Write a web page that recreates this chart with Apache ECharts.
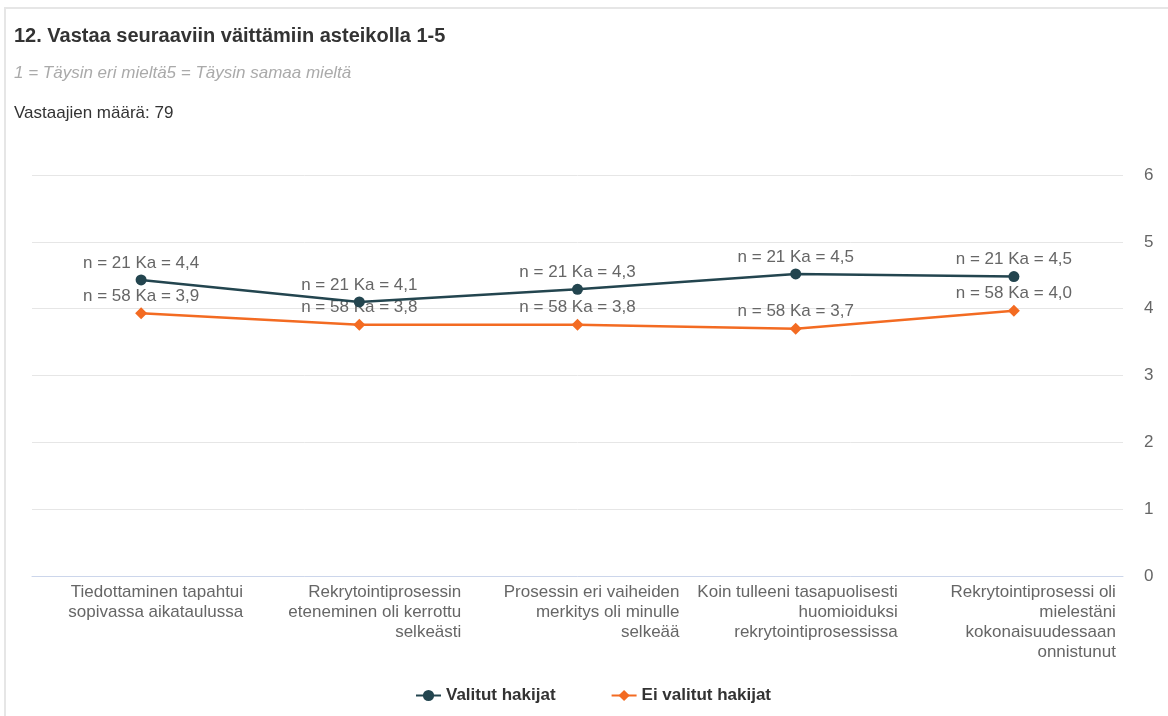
<!DOCTYPE html>
<html>
<head>
<meta charset="utf-8">
<script src="https://cdn.jsdelivr.net/npm/echarts@6/dist/echarts.min.js"></script>
<style>
  html, body { margin: 0; padding: 0; background: #fff; }
  #frame { position: absolute; left: 4px; top: 7px; width: 1200px; height: 760px;
           border-left: 2px solid #e6e6e6; border-top: 2px solid #e6e6e6; box-sizing: border-box; }
  #chart { position: absolute; left: 0; top: 0; width: 1168px; height: 716px; }
</style>
</head>
<body>
<div id="frame"></div>
<div id="chart"></div>
<script>
// Statements rated on a 1–5 scale
const categories = [
  'Tiedottaminen tapahtui\nsopivassa aikataulussa',
  'Rekrytointiprosessin\neteneminen oli kerrottu\nselkeästi',
  'Prosessin eri vaiheiden\nmerkitys oli minulle\nselkeää',
  'Koin tulleeni tasapuolisesti\nhuomioiduksi\nrekrytointiprosessissa',
  'Rekrytointiprosessi oli\nmielestäni\nkokonaisuudessaan\nonnistunut'
];
// Mean scores per group
const selectedMeans = [4.43, 4.10, 4.29, 4.52, 4.48];
const notSelectedMeans = [3.93, 3.76, 3.76, 3.70, 3.97];
// Respondent counts per group
const selectedN = 21;
const notSelectedN = 58;
const yTicks = [0, 1, 2, 3, 4, 5, 6];

const seriesNames = ['Valitut hakijat', 'Ei valitut hakijat'];

const FONT = 'Liberation Sans, Arial, sans-serif';
// Category label block width; lines are right-aligned inside the block
const LABEL_BLOCK = 204;
const fmtLabel = (n) => (p) => 'n = ' + n + ' Ka = ' + p.value.toFixed(1).replace('.', ',');

const chart = echarts.init(document.getElementById('chart'));
chart.setOption({
  animation: false,
  textStyle: { fontFamily: FONT },
  title: [
    { text: '12. Vastaa seuraaviin väittämiin asteikolla 1-5', left: 9, top: 21,
      textStyle: { fontSize: 20, fontWeight: 'bold', color: '#333' } },
    { text: '1 = Täysin eri mieltä5 = Täysin samaa mieltä', left: 9, top: 60,
      textStyle: { fontSize: 17, fontStyle: 'italic', fontWeight: 'normal', color: '#aaa' } },
    { text: 'Vastaajien määrä: 79', left: 9, top: 100,
      textStyle: { fontSize: 17, fontWeight: 'normal', color: '#333' } }
  ],
  legend: {
    top: 682, left: 410, itemGap: 55, itemWidth: 25, itemHeight: 14,
    textStyle: { fontSize: 17, fontWeight: 'bold', color: '#333' },
    data: seriesNames
  },
  grid: { left: 32, right: 45, top: 175, bottom: 140 },
  xAxis: {
    type: 'category',
    data: categories,
    boundaryGap: true,
    axisLine: { lineStyle: { color: '#ccd6eb' } },
    axisTick: { show: false },
    axisLabel: {
      interval: 0, margin: 6,
      formatter: (v) => v.split('\n').map(s => '{c|' + s + '}').join('\n'),
      rich: {
        c: { width: LABEL_BLOCK, align: 'right', fontSize: 17, lineHeight: 20, color: '#666', fontFamily: FONT }
      }
    }
  },
  yAxis: {
    type: 'value', position: 'right', min: yTicks[0], max: yTicks[yTicks.length - 1], interval: 1,
    axisLine: { show: false }, axisTick: { show: false },
    splitLine: { lineStyle: { color: '#e6e6e6' } },
    axisLabel: { margin: 21, color: '#666', fontSize: 17, align: 'left' }
  },
  series: [
    {
      name: seriesNames[0], type: 'line', data: selectedMeans,
      symbol: 'circle', symbolSize: 11,
      lineStyle: { color: '#23454f', width: 2.5 },
      itemStyle: { color: '#23454f' },
      label: { show: true, position: 'top', distance: 3, color: '#666', fontSize: 17,
               formatter: fmtLabel(selectedN) },
      z: 3
    },
    {
      name: seriesNames[1], type: 'line', data: notSelectedMeans,
      symbol: 'diamond', symbolSize: 12,
      lineStyle: { color: '#f36b22', width: 2.5 },
      itemStyle: { color: '#f36b22' },
      label: { show: true, position: 'top', distance: 3, color: '#666', fontSize: 17,
               formatter: fmtLabel(notSelectedN) },
      z: 2
    }
  ]
});
</script>
</body>
</html>
